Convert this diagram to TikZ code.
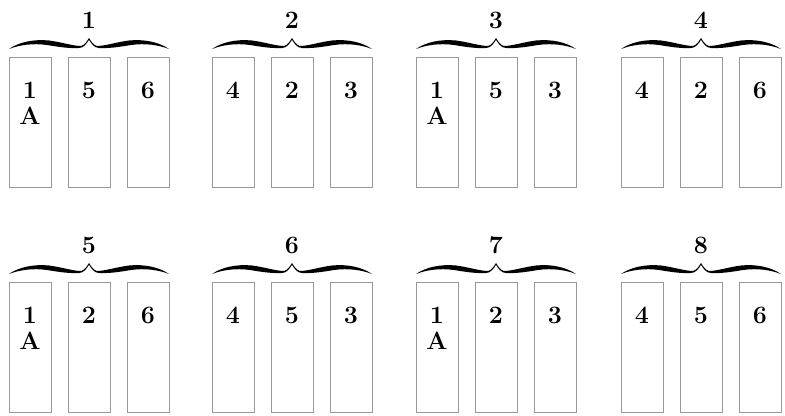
\documentclass[tikz,border=0pt]{standalone}
\usepackage{tikz}
\usetikzlibrary{positioning}

\tikzset{
  colbox/.style={draw=black!40, line width=0.4pt, minimum width=21pt, minimum height=65pt, inner sep=0pt},
  numlbl/.style={font=\fontsize{12.5}{13}\selectfont\bfseries, align=center, inner sep=0pt},
  ornbrace/.pic={
    \foreach \s in {1,-1}
      \fill[xscale=\s] (-80,11) .. controls (-70,4) and (-55,1) .. (-40,2.5)
        .. controls (-28,4) and (-16,8) .. (-8,8) .. controls (-4,7) and (-2,3) .. (0,0)
        -- (0,1.8) .. controls (-2,5) and (-5,10) .. (-10,10)
        .. controls (-20,10.5) and (-30,9) .. (-42,7) .. controls (-56,5) and (-70,7) .. (-80,11) -- cycle;
  }
}

\begin{document}
\begin{tikzpicture}[x=0.5pt, y=-0.5pt]
  \useasboundingbox (0,0) rectangle (785,416);

  % one group = brace, number, three columns
  \foreach \g/\gx/\gy/\la/\lb/\lc in {1/89/0/{1\\A}/5/6, 2/292/0/4/2/3, 3/496/0/{1\\A}/5/3, 4/701/0/4/2/6,
                                      5/89/225/{1\\A}/2/6, 6/292/225/4/5/3, 7/496/225/{1\\A}/2/3, 8/701/225/4/5/6}{
    \pic at (\gx,38+\gy) {ornbrace};
    \node[numlbl] (n\g) at (\gx,20+\gy) {\g};
    \node[colbox] (g\g L) at (\gx-59,122+\gy) {};
    \node[colbox] (g\g M) at (\gx,122+\gy) {};
    \node[colbox] (g\g R) at (\gx+59,122+\gy) {};
    \node[numlbl, below=12.5pt of g\g L.north] (t\g L) {\la};
    \node[numlbl, below=12.5pt of g\g M.north] (t\g M) {\lb};
    \node[numlbl, below=12.5pt of g\g R.north] (t\g R) {\lc};
  }
\end{tikzpicture}
\end{document}
